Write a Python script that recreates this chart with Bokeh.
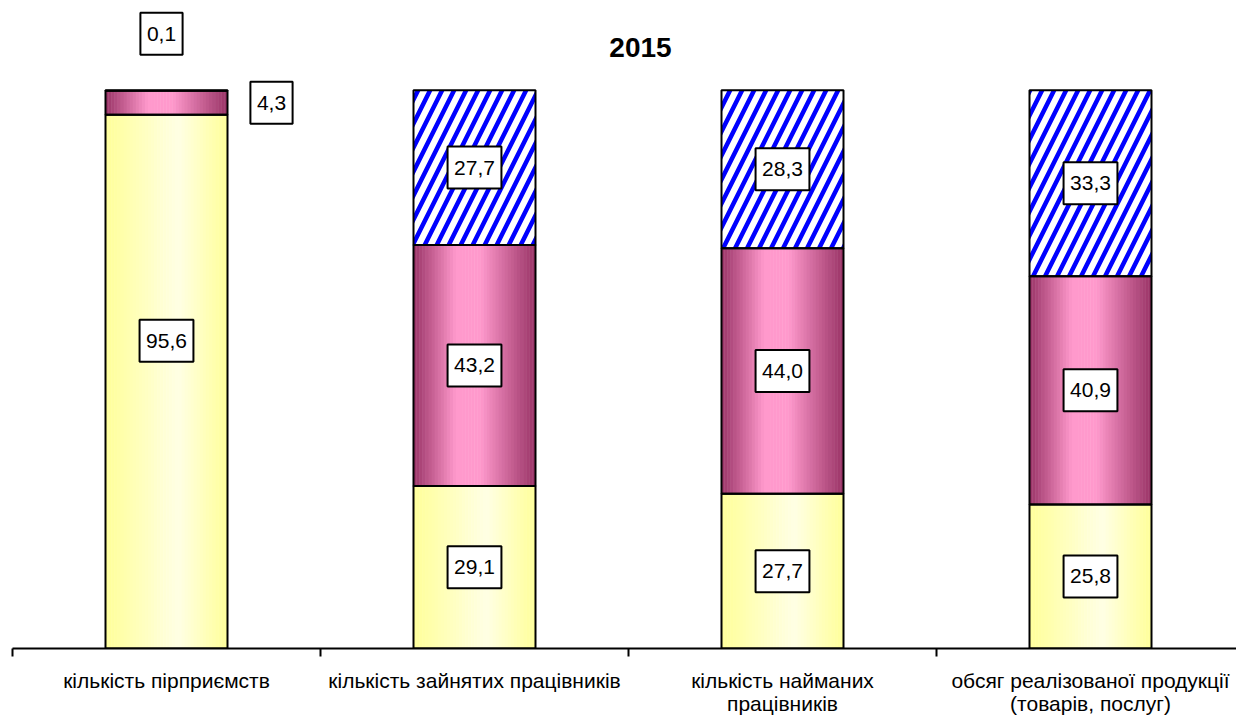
from bokeh.plotting import figure
from bokeh.models import ColumnDataSource, Label, FixedTicker, Range1d
from bokeh.core.properties import value
from bokeh.embed import file_html
from bokeh.resources import INLINE

# ---- data ----
categories = [
    "кількість пірприємств",
    "кількість зайнятих працівників",
    "кількість найманих\nпрацівників",
    "обсяг реалізованої продукції\n(товарів, послуг)",
]
small_share = [95.6, 29.1, 27.7, 25.8]    # yellow (bottom)
medium_share = [4.3, 43.2, 44.0, 40.9]    # magenta (middle)
large_share = [0.1, 27.7, 28.3, 33.3]     # hatched (top)
title_text = "2015"

# ---- style / layout ----
FONT = "Liberation Sans"
W, H = 1236, 717
LEFT = 12
PX_X = 308.0                     # pixels per category
X_END = (W - LEFT) / PX_X
AXIS_Y = 650.0                   # expected page y of the axis line
TOP = 5
PX_Y = (AXIS_Y - 90) / 100.0     # pixels per percent
Y_END = (AXIS_Y - TOP) / PX_Y
BAR_W = 122 / PX_X
N_STRIPS = 40
LABEL_PX = 21
yellow_stops = [(0.0, "#FFFF99"), (0.6, "#FFFFE4"), (1.0, "#FFFF99")]
magenta_stops = [(0.0, "#993366"), (0.35, "#FF99CC"), (0.55, "#FF99CC"), (1.0, "#993366")]

# label offsets in screen pixels (manual placement in the original)
small_dx = [0, 0, 0, 0]
small_dy = [41, 0, 0, 0]
medium_dx = [105, 0, 0, 0]
medium_dy = [0, 0, 0, 0]
large_dx = [-5, 0, 0, 0]
large_dy = [57, 0, 0, 0]

xs = [i + 0.5 for i in range(len(categories))]


def hex2rgb(h):
    h = h.lstrip("#")
    return tuple(int(h[i:i + 2], 16) for i in (0, 2, 4))


def interp(stops, t):
    for (t0, c0), (t1, c1) in zip(stops[:-1], stops[1:]):
        if t0 <= t <= t1:
            f = 0 if t1 == t0 else (t - t0) / (t1 - t0)
            a, b = hex2rgb(c0), hex2rgb(c1)
            return "#%02x%02x%02x" % tuple(round(a[k] + (b[k] - a[k]) * f) for k in range(3))
    return stops[-1][1]


def strip_source(bottoms, tops, stops):
    d = dict(x=[], bottom=[], top=[], color=[])
    sw = BAR_W / N_STRIPS
    for xc, b, t in zip(xs, bottoms, tops):
        for i in range(N_STRIPS):
            tt = (i + 0.5) / N_STRIPS
            d["x"].append(xc - BAR_W / 2 + sw * (i + 0.5))
            d["bottom"].append(b)
            d["top"].append(t)
            d["color"].append(interp(stops, tt))
    return ColumnDataSource(d), sw * 1.15


b0 = [0.0] * 4
t_small = small_share
t_medium = [a + b for a, b in zip(small_share, medium_share)]
t_large = [a + b for a, b in zip(t_medium, large_share)]

p = figure(width=W, height=H, output_backend="svg", toolbar_location=None,
           x_range=Range1d(0, X_END), y_range=Range1d(0, Y_END),
           min_border_left=LEFT, min_border_right=0, min_border_top=TOP, min_border_bottom=0)
p.outline_line_color = None
p.grid.visible = False
p.yaxis.visible = False
p.background_fill_color = "white"
p.border_fill_color = "white"

src_s, sw = strip_source(b0, t_small, yellow_stops)
p.vbar(x="x", bottom="bottom", top="top", width=sw, source=src_s,
       fill_color="color", line_color=None)
src_m, sw = strip_source(t_small, t_medium, magenta_stops)
p.vbar(x="x", bottom="bottom", top="top", width=sw, source=src_m,
       fill_color="color", line_color=None)

# hatched top segment
p.vbar(x=xs, bottom=t_medium, top=t_large, width=BAR_W, fill_color="white",
       hatch_pattern="/", hatch_color="#0000FF", hatch_weight=4.5, hatch_scale=24,
       line_color="black", line_width=2)
# outlines
p.vbar(x=xs, bottom=b0, top=t_small, width=BAR_W, fill_alpha=0,
       line_color="black", line_width=2)
p.vbar(x=xs, bottom=t_small, top=t_medium, width=BAR_W, fill_alpha=0,
       line_color="black", line_width=2)


def fmt(v):
    return f"{v:.1f}".replace(".", ",")


def text_w(s):
    return sum((0.278 if ch == "," else 0.556) for ch in s) * LABEL_PX


lab = dict(x=[], y=[], text=[], w=[])
for vals, bots, dxs, dys in [(small_share, b0, small_dx, small_dy),
                             (medium_share, t_small, medium_dx, medium_dy),
                             (large_share, t_medium, large_dx, large_dy)]:
    for xc, v, b, dx, dy in zip(xs, vals, bots, dxs, dys):
        s = fmt(v)
        lab["x"].append(xc + dx / PX_X)
        lab["y"].append(b + v / 2 + dy / PX_Y)
        lab["text"].append(s)
        lab["w"].append(text_w(s) + 13)
lsrc = ColumnDataSource(lab)
p.rect(x="x", y="y", width="w", height=42, width_units="screen", height_units="screen",
       source=lsrc, fill_color="white", line_color="black", line_width=2)
p.text(x="x", y="y", text="text", source=lsrc, text_align="center", text_baseline="middle",
       text_font=value(FONT), text_font_size=value(f"{LABEL_PX}px"), text_color="black")

p.add_layout(Label(x=(640 - LEFT) / PX_X, y=(AXIS_Y - 47) / PX_Y, text=title_text,
                   text_font=FONT, text_font_size="28px", text_font_style="bold",
                   text_color="black", text_align="center", text_baseline="middle"))

ax = p.xaxis[0]
ax.ticker = FixedTicker(ticks=xs, minor_ticks=[0, 1, 2, 3, 4])
ax.major_label_overrides = {x: c for x, c in zip(xs, categories)}
ax.major_tick_out = 0
ax.major_tick_in = 0
ax.minor_tick_out = 8
ax.minor_tick_in = 0
ax.minor_tick_line_width = 2
ax.minor_tick_line_color = "black"
ax.axis_line_width = 2
ax.axis_line_color = "black"
ax.major_label_standoff = 12
ax.axis_label_standoff = 0
ax.major_label_text_font = FONT
ax.major_label_text_font_size = "21px"
ax.major_label_text_line_height = 1.0
ax.major_label_text_color = "black"

open("out.html", "w").write(file_html(p, INLINE))
